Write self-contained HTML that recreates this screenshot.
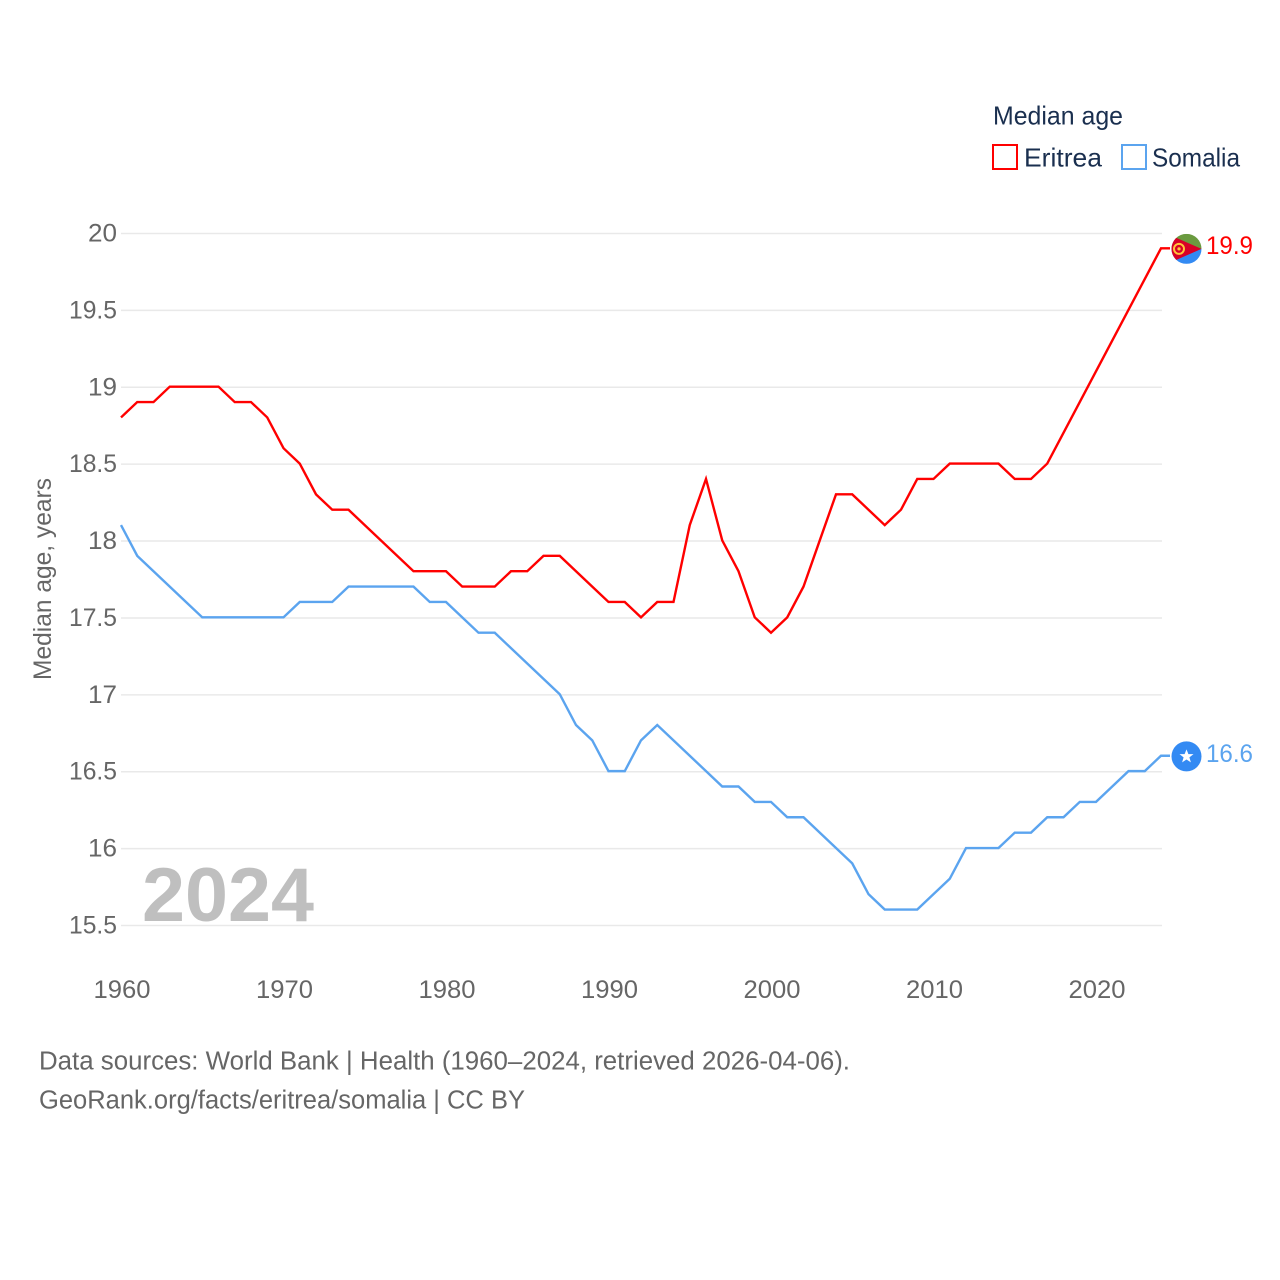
<!DOCTYPE html>
<html lang="en">
<head>
<meta charset="utf-8">
<title>Median age: Eritrea and Somalia</title>
<style>
html,body{margin:0;padding:0;background:#fff;width:1280px;height:1280px;overflow:hidden}
svg{display:block;font-family:"Liberation Sans",sans-serif}
</style>
</head>
<body>
<svg id="chart" xmlns="http://www.w3.org/2000/svg" width="1280" height="1280" viewBox="0 0 1280 1280">
  <defs>
    <clipPath id="flag-clip"><circle cx="0" cy="0" r="15"></circle></clipPath>
  </defs>
  <g id="grid"></g>
  <g id="y-ticks"></g>
  <g id="x-ticks"></g>
  <text transform="translate(51,680) rotate(-90)" font-size="25" fill="#666" textLength="202" lengthAdjust="spacingAndGlyphs">Median age, years</text>
  <text x="142" y="921" font-size="76" font-weight="700" fill="#bfbfbf" textLength="172" lengthAdjust="spacingAndGlyphs">2024</text>
  <g id="series"></g>

  <g id="marker-eritrea">
    <g clip-path="url(#flag-clip)">
      <rect x="-15" y="-15" width="30" height="15" fill="#6a9a3f"></rect>
      <rect x="-15" y="0" width="30" height="15" fill="#338af3"></rect>
      <polygon points="-17,-14 15,0 -17,14" fill="#d80027"></polygon>
      <circle cx="-7.5" cy="0" r="5" fill="none" stroke="#ffc53a" stroke-width="2"></circle>
      <circle cx="-7.5" cy="0" r="1.6" fill="#ffc53a"></circle>
    </g>
  </g>
  <g id="marker-somalia">
    <circle cx="0" cy="0" r="15" fill="#338af3"></circle>
    <polygon points="0,-7 1.9,-2.2 7,-2.2 2.9,1 4.4,6 0,3.1 -4.4,6 -2.9,1 -7,-2.2 -1.9,-2.2" fill="#fff"></polygon>
  </g>
  <text id="value-eritrea" x="1206" font-size="25" fill="#ff0000" textLength="47" lengthAdjust="spacingAndGlyphs"></text>
  <text id="value-somalia" x="1206" font-size="25" fill="#5ba4ef" textLength="47" lengthAdjust="spacingAndGlyphs"></text>

  <g>
    <text x="993" y="124.5" font-size="26" fill="#1a2f4f" textLength="130" lengthAdjust="spacingAndGlyphs">Median age</text>
    <g>
      <rect x="993" y="145" width="24" height="24" fill="#fff" stroke="#ff0000" stroke-width="2"></rect>
      <text x="1024" y="166.5" font-size="26" fill="#1a2f4f" textLength="78" lengthAdjust="spacingAndGlyphs">Eritrea</text>
    </g>
    <g>
      <rect x="1122" y="145" width="24" height="24" fill="#fff" stroke="#5ba4ef" stroke-width="2"></rect>
      <text x="1152" y="166.5" font-size="26" fill="#1a2f4f" textLength="88" lengthAdjust="spacingAndGlyphs">Somalia</text>
    </g>
  </g>

  <text x="39" y="1069.5" font-size="25.5" fill="#666" textLength="811" lengthAdjust="spacingAndGlyphs">Data sources: World Bank | Health (1960–2024, retrieved 2026-04-06).</text>
  <text x="39" y="1108.5" font-size="25.5" fill="#666" textLength="486" lengthAdjust="spacingAndGlyphs">GeoRank.org/facts/eritrea/somalia | CC BY</text>
</svg>
<script>
const years = [1960,1961,1962,1963,1964,1965,1966,1967,1968,1969,1970,1971,1972,1973,1974,1975,1976,1977,1978,1979,1980,1981,1982,1983,1984,1985,1986,1987,1988,1989,1990,1991,1992,1993,1994,1995,1996,1997,1998,1999,2000,2001,2002,2003,2004,2005,2006,2007,2008,2009,2010,2011,2012,2013,2014,2015,2016,2017,2018,2019,2020,2021,2022,2023,2024];
const eritrea = [18.8,18.9,18.9,19,19,19,19,18.9,18.9,18.8,18.6,18.5,18.3,18.2,18.2,18.1,18,17.9,17.8,17.8,17.8,17.7,17.7,17.7,17.8,17.8,17.9,17.9,17.8,17.7,17.6,17.6,17.5,17.6,17.6,18.1,18.4,18,17.8,17.5,17.4,17.5,17.7,18,18.3,18.3,18.2,18.1,18.2,18.4,18.4,18.5,18.5,18.5,18.5,18.4,18.4,18.5,18.7,18.9,19.1,19.3,19.5,19.7,19.9];
const somalia = [18.1,17.9,17.8,17.7,17.6,17.5,17.5,17.5,17.5,17.5,17.5,17.6,17.6,17.6,17.7,17.7,17.7,17.7,17.7,17.6,17.6,17.5,17.4,17.4,17.3,17.2,17.1,17,16.8,16.7,16.5,16.5,16.7,16.8,16.7,16.6,16.5,16.4,16.4,16.3,16.3,16.2,16.2,16.1,16,15.9,15.7,15.6,15.6,15.6,15.7,15.8,16,16,16,16.1,16.1,16.2,16.2,16.3,16.3,16.4,16.5,16.5,16.6];
const yTickValues = [15.5,16,16.5,17,17.5,18,18.5,19,19.5,20];
const xTickValues = [1960,1970,1980,1990,2000,2010,2020];

const NS = 'http://www.w3.org/2000/svg';
function xScale(year){ return 121 + (year - 1960) * 16.25; }
function yScale(value){ return 233.5 + (20 - value) * 153.78; }
function make(tag, attrs, parent){
  const el = document.createElementNS(NS, tag);
  for (const k in attrs) el.setAttribute(k, attrs[k]);
  parent.appendChild(el);
  return el;
}

const gridLayer = document.getElementById('grid');
const yLayer = document.getElementById('y-ticks');
yTickValues.forEach(function(v){
  const y = yScale(v);
  const line = make('line', {x1:121, x2:1162, y1:y, y2:y, stroke:'#e9e9e9', 'stroke-width':1.5}, gridLayer);
  
  
  const label = String(v);
  const t = make('text', {x:117, y:y + 8, 'text-anchor':'end', 'font-size':25, fill:'#666', textLength: label.length > 2 ? 48 : 29, lengthAdjust:'spacingAndGlyphs'}, yLayer);
  t.textContent = label;
  
  
});

const xLayer = document.getElementById('x-ticks');
xTickValues.forEach(function(yr){
  const t = make('text', {x:xScale(yr) + 1, y:998, 'text-anchor':'middle', 'font-size':25, fill:'#666', textLength:57, lengthAdjust:'spacingAndGlyphs'}, xLayer);
  t.textContent = String(yr);
  
  
});

const seriesLayer = document.getElementById('series');
const lineOffset = -0.6;
function drawSeries(values, color){
  const pts = values.map(function(v, i){ return xScale(years[i]).toFixed(2) + ',' + (yScale(v) + lineOffset).toFixed(2); });
  const lastY = yScale(values[values.length - 1]) + lineOffset;
  pts.push('1170,' + lastY.toFixed(2));
  return make('polyline', {points:pts.join(' '), fill:'none', stroke:color, 'stroke-width':2.4, 'stroke-linejoin':'miter'}, seriesLayer);
}
const somaliaLine = drawSeries(somalia, '#5ba4ef');


const eritreaLine = drawSeries(eritrea, '#ff0000');



const lastE = eritrea[eritrea.length - 1];
const lastS = somalia[somalia.length - 1];
document.getElementById('marker-eritrea').setAttribute('transform', 'translate(1186.5,' + yScale(lastE).toFixed(2) + ')');
document.getElementById('marker-somalia').setAttribute('transform', 'translate(1186.5,' + yScale(lastS).toFixed(2) + ')');
const ve = document.getElementById('value-eritrea');
ve.setAttribute('y', (yScale(lastE) + 5).toFixed(2));
ve.textContent = lastE.toFixed(1);
const vs = document.getElementById('value-somalia');
vs.setAttribute('y', (yScale(lastS) + 5.5).toFixed(2));
vs.textContent = lastS.toFixed(1);
</script>
</body>
</html>
